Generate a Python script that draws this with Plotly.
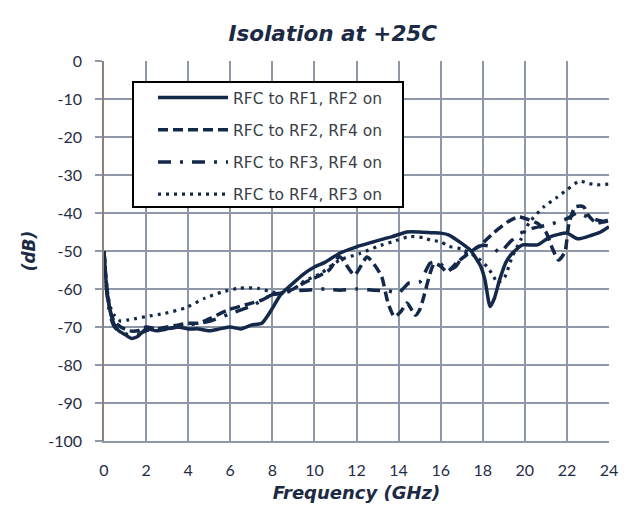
import plotly.graph_objects as go

# ---- data ----
rf1_x = [0, 0.1, 0.2, 0.35, 0.5, 0.7, 1.0, 1.3, 1.6, 2.0, 2.5, 3.0, 3.5, 4.0, 4.5, 5.0, 5.5, 6.0, 6.5, 7.0,
         7.5, 7.9, 8.4, 9.0, 9.5, 10.0, 10.5, 11.2, 12.0, 12.8, 13.3, 13.7, 14.4, 15.0, 15.6, 16.0, 16.4,
         17.0, 17.4, 17.9, 18.1, 18.35, 18.55, 18.8, 19.1, 19.4, 19.9, 20.6, 21.2, 22.0, 22.5, 23.2, 23.6, 24.0]
rf1_y = [-50, -58, -63, -67, -69.5, -71, -72, -73, -72.5, -70.5, -71, -70.5, -70, -70.5, -70.5, -71, -70.5,
         -70, -70.5, -69.5, -69, -66, -61.5, -58.4, -56, -54.2, -53, -50.6, -48.9, -47.6, -46.8, -46.2,
         -45, -45, -45.2, -45.3, -45.8, -48, -49.7, -54, -57.5, -64.6, -62.5, -57.6, -53, -50.6, -48.4,
         -48.4, -46.3, -45.3, -46.8, -45.8, -45, -43.6]

rf2_x = [0, 0.1, 0.2, 0.35, 0.5, 0.8, 1.2, 1.6, 2.0, 2.5, 3.0, 3.5, 4.0, 4.5, 5.1, 5.9, 6.7, 7.5, 8.0, 8.5,
         9.0, 9.5, 10.3, 10.7, 11.2, 11.9, 12.5, 12.9, 13.2, 13.5, 13.8, 14.1, 14.4, 14.8, 15.0, 15.2,
         15.5, 15.7, 16.0, 16.3, 16.8, 17.4, 17.9, 18.5, 19.2, 19.7, 20.2, 20.6, 21.0, 21.3, 21.6, 21.9,
         22.1, 22.4, 22.8, 23.0, 23.4, 24.0]
rf2_y = [-50, -58, -63, -67, -68.5, -70, -71, -71, -70, -70.5, -70, -69.5, -69, -69, -67.6, -65.5, -64.2,
         -62.9, -61.5, -61, -60, -58.4, -56.3, -55, -51.5, -56.3, -51.6, -54, -56.8, -63.7, -67.3, -66,
         -63.7, -66.9, -65.5, -62, -55.8, -53.2, -54, -55.5, -52.9, -50.3, -48.4, -45.3, -42.3, -41,
         -41.8, -42.7, -45, -49.2, -52.4, -50.3, -42.7, -38.4, -38.4, -40.5, -42.6, -41.8]

rf3_x = [0, 0.1, 0.2, 0.35, 0.5, 0.8, 1.2, 1.6, 2.0, 2.5, 3.0, 3.5, 4.0, 4.5, 5.0, 6.0, 7.0, 8.0, 8.5, 9.0,
         9.6, 10.5, 11.2, 12.0, 12.8, 13.5, 14.0, 14.5, 15.0, 15.5, 15.9, 16.3, 16.7, 17.1, 17.5, 18.0,
         18.5, 18.8, 19.3, 19.8, 20.4, 21.05, 21.6, 22.0, 22.5, 23.1, 23.8, 24.0]
rf3_y = [-50, -59, -64, -68, -70, -71.5, -72, -72, -71, -70.5, -70.5, -70, -69.5, -69, -68.5, -66.5, -64.5,
         -61.5, -61, -60.5, -60.3, -60, -60.3, -60, -60.3, -60.5, -61, -58.4, -58.2, -53.2, -52.9, -55,
         -54.2, -51, -49.7, -48.5, -49, -50.5, -47.6, -45.3, -44, -43.2, -42.3, -41.5, -40, -41.3, -42.3, -42]

rf4_x = [0, 0.1, 0.2, 0.35, 0.5, 0.8, 1.1, 1.5, 1.95, 2.9, 3.85, 4.8, 5.6, 6.4, 7.3, 8.0, 8.5, 9.0, 9.5,
         10.3, 11.2, 12.2, 13.0, 13.7, 14.5, 15.2, 15.5, 16.0, 16.4, 17.0, 17.4, 17.8, 18.2, 18.5, 18.7,
         19.05, 19.4, 19.8, 20.2, 20.9, 21.5, 22.0, 22.6, 23.0, 23.4, 24.0]
rf4_y = [-50, -57, -62, -65.5, -67, -68.5, -68.2, -67.8, -67.3, -66.4, -65, -62.4, -60.8, -59.8, -59.8,
         -60.8, -61, -60, -58, -55.9, -52.4, -50.6, -48.8, -47.6, -46.2, -46.5, -47.1, -47.6, -48.8, -49.5,
         -50.6, -52, -54.1, -56.5, -58.4, -56.8, -51.5, -47.1, -42.6, -38.4, -36, -33.9, -31.6, -32.2,
         -32.6, -32.4]

series_names = ["RFC to RF1, RF2 on", "RFC to RF2, RF4 on", "RFC to RF3, RF4 on", "RFC to RF4, RF3 on"]
x_ticks = list(range(0, 25, 2))
y_ticks = list(range(-100, 1, 10))
y_tick_labels = [str(v) for v in y_ticks]

navy = "#14284a"
grid = "#8e98a6"
tick_font = "Lato, 'Open Sans', sans-serif"
head_font = "'DejaVu Sans', Verdana, sans-serif"

# plot area in pixels (for placing the legend frame)
L, R, T, B = 104, 609, 61, 441
def px(xp):
    return (xp - L) / (R - L)
def py(yp):
    return (B - yp) / (B - T)

fig = go.Figure()
series = [(rf1_x, rf1_y, "solid", 3.5),
          (rf2_x, rf2_y, "10px,5px", 3.5),
          (rf3_x, rf3_y, "13px,9px,3px,9px", 3.5),
          (rf4_x, rf4_y, "3px,5px", 3.2)]
for i, ((xs, ys, dash, w), name) in enumerate(zip(series, series_names)):
    fig.add_trace(go.Scatter(x=xs, y=ys, mode="lines", name=name, legendgroup=f"g{i}",
                             line=dict(color=navy, width=w, dash=dash, shape="spline", smoothing=0.6)))

fig.update_layout(
    width=631, height=517,
    margin=dict(l=L, r=631 - R, t=T, b=517 - B),
    paper_bgcolor="white", plot_bgcolor="white",
    font=dict(family=tick_font, color="#1f2d45", size=16),
    title=dict(text="<b><i>Isolation at +25C</i></b>", x=0.453, xref="paper", xanchor="center",
               y=1 - 33 / 517, yref="container", yanchor="middle",
               font=dict(size=21.5, color="#1c2a44", family=head_font)),
    legend=dict(x=px(153), y=py(81), xanchor="left", yanchor="top",
                bgcolor="rgba(0,0,0,0)", borderwidth=0,
                font=dict(size=15.5, color="#3a3f48", family=head_font),
                tracegroupgap=9, itemwidth=70),
    showlegend=True,
    shapes=[dict(type="rect", xref="paper", yref="paper", x0=px(133), x1=px(403), y0=py(207), y1=py(82),
                 line=dict(color="black", width=2), fillcolor="white", layer="above")],
)
fig.update_xaxes(range=[0, 24], tickvals=x_ticks, showgrid=True, gridcolor=grid, gridwidth=1.5,
                 showline=True, linecolor=grid, linewidth=1.5, mirror=False, zeroline=False,
                 ticks="", ticklabelstandoff=14,
                 title=dict(text="<b><i>Frequency (GHz)</i></b>",
                            font=dict(size=18, color="#1c2a44", family=head_font), standoff=8))
fig.update_yaxes(range=[-100, 0], tickvals=y_ticks, ticktext=y_tick_labels,
                 showgrid=True, gridcolor=grid, gridwidth=1.5,
                 showline=True, linecolor="#8c8279", linewidth=1.5, zeroline=False,
                 ticks="outside", ticklen=7, tickcolor=grid, tickwidth=1.5, ticklabelstandoff=10,
                 title=dict(text="<b><i>(dB)</i></b>", font=dict(size=17, color="#1c2a44", family=head_font),
                            standoff=8))

fig.write_html("out.html")
